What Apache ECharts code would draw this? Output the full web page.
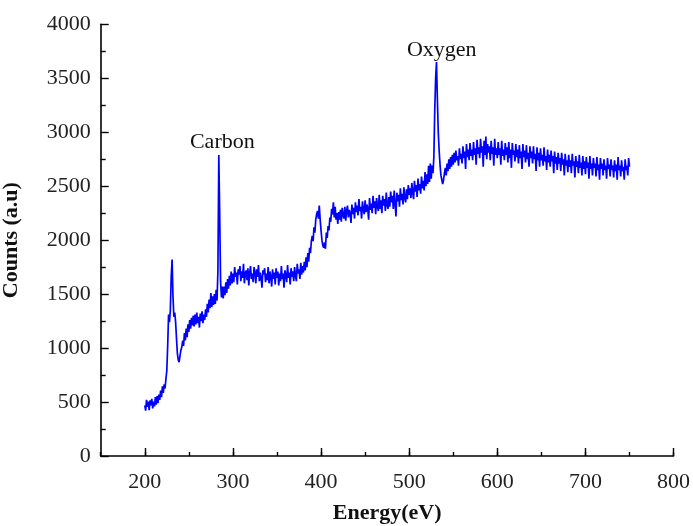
<!DOCTYPE html>
<html>
<head>
<meta charset="utf-8">
<script src="https://cdn.jsdelivr.net/npm/echarts@6/dist/echarts.min.js"></script>
<style>
html,body{margin:0;padding:0;background:#fff;}
#chart{width:693px;height:526px;}
</style>
</head>
<body>
<div id="chart"></div>
<script>
// Energy grid (eV): sampled every 1 eV starting at 200 eV
const energyStart = 200;
const energyStep = 1;
// Counts, one value per eV from 200 to 750
const counts = [
  470, 420, 520, 455, 505, 425, 515, 470, 530, 440,   // 200
  505, 460, 545, 475, 555, 490, 570, 520, 605, 545,   // 210
  645, 585, 665, 625, 715, 790, 1020, 1310, 1240, 1350, // 220
  1660, 1820, 1480, 1290, 1330, 1240, 1090, 950, 890, 870, // 230
  930, 980, 1010, 1070, 1020, 1140, 1070, 1180, 1100, 1220, // 240
  1150, 1260, 1180, 1280, 1210, 1300, 1200, 1310, 1220, 1330, // 250
  1230, 1290, 1190, 1320, 1250, 1340, 1230, 1310, 1260, 1360, // 260
  1290, 1410, 1330, 1450, 1370, 1510, 1380, 1480, 1400, 1500, // 270
  1410, 1540, 1440, 1720, 2790, 2250, 1620, 1470, 1570, 1460, // 280
  1570, 1490, 1610, 1510, 1640, 1550, 1670, 1580, 1710, 1600, // 290
  1690, 1610, 1750, 1660, 1700, 1590, 1730, 1680, 1760, 1620, // 300
  1710, 1650, 1780, 1600, 1690, 1720, 1630, 1740, 1580, 1700, // 310
  1760, 1640, 1690, 1610, 1750, 1700, 1600, 1730, 1660, 1770, // 320
  1620, 1700, 1650, 1560, 1720, 1680, 1740, 1610, 1690, 1630, // 330
  1750, 1600, 1710, 1660, 1570, 1730, 1640, 1700, 1590, 1740, // 340
  1650, 1710, 1580, 1690, 1620, 1760, 1640, 1690, 1560, 1720, // 350
  1680, 1610, 1770, 1650, 1700, 1590, 1740, 1660, 1710, 1620, // 360
  1750, 1670, 1620, 1780, 1690, 1730, 1640, 1790, 1680, 1760, // 370
  1700, 1800, 1720, 1840, 1750, 1880, 1800, 1930, 1880, 1990, // 380
  2040, 1990, 2120, 2070, 2190, 2240, 2270, 2200, 2320, 2190, // 390
  2090, 2000, 1950, 1930, 1980, 1920, 2070, 2020, 2130, 2090, // 400
  2210, 2170, 2290, 2240, 2350, 2210, 2310, 2190, 2250, 2150, // 410
  2260, 2190, 2280, 2170, 2300, 2230, 2200, 2310, 2180, 2270, // 420
  2320, 2210, 2280, 2250, 2160, 2330, 2240, 2300, 2200, 2350, // 430
  2260, 2320, 2230, 2380, 2270, 2310, 2200, 2360, 2280, 2240, // 440
  2370, 2260, 2330, 2290, 2190, 2390, 2280, 2340, 2250, 2410, // 450
  2300, 2360, 2240, 2390, 2310, 2270, 2420, 2290, 2370, 2250, // 460
  2410, 2320, 2380, 2270, 2440, 2330, 2290, 2400, 2310, 2450, // 470
  2350, 2410, 2290, 2460, 2340, 2220, 2440, 2360, 2420, 2310, // 480
  2480, 2370, 2430, 2330, 2490, 2390, 2350, 2470, 2380, 2510, // 490
  2420, 2480, 2390, 2530, 2440, 2380, 2550, 2450, 2510, 2400, // 500
  2570, 2460, 2520, 2430, 2590, 2480, 2550, 2460, 2630, 2500, // 510
  2610, 2520, 2690, 2540, 2710, 2570, 2690, 2620, 2770, 3200, // 520
  3500, 3650, 3300, 3000, 2830, 2700, 2600, 2560, 2520, 2560, // 530
  2620, 2670, 2600, 2710, 2640, 2750, 2660, 2770, 2680, 2790, // 540
  2700, 2810, 2720, 2830, 2740, 2780, 2690, 2850, 2750, 2800, // 550
  2710, 2870, 2760, 2820, 2660, 2890, 2770, 2840, 2740, 2900, // 560
  2780, 2840, 2740, 2910, 2790, 2850, 2700, 2930, 2800, 2860, // 570
  2760, 2940, 2810, 2870, 2680, 2920, 2790, 2960, 2750, 2890, // 580
  2810, 2870, 2740, 2920, 2800, 2860, 2690, 2940, 2790, 2850, // 590
  2760, 2910, 2790, 2850, 2700, 2920, 2780, 2840, 2740, 2900, // 600
  2790, 2860, 2720, 2910, 2760, 2840, 2670, 2900, 2790, 2830, // 610
  2730, 2890, 2770, 2840, 2710, 2880, 2760, 2820, 2660, 2890, // 620
  2770, 2830, 2720, 2880, 2750, 2810, 2680, 2870, 2760, 2820, // 630
  2710, 2870, 2750, 2800, 2640, 2860, 2740, 2810, 2680, 2850, // 640
  2740, 2790, 2690, 2860, 2730, 2780, 2650, 2840, 2720, 2790, // 650
  2680, 2830, 2730, 2780, 2620, 2820, 2710, 2770, 2650, 2810, // 660
  2710, 2760, 2640, 2810, 2700, 2750, 2600, 2800, 2690, 2740, // 670
  2630, 2790, 2680, 2740, 2620, 2800, 2690, 2730, 2580, 2780, // 680
  2680, 2730, 2620, 2790, 2670, 2720, 2600, 2780, 2660, 2730, // 690
  2610, 2770, 2670, 2720, 2570, 2780, 2660, 2710, 2600, 2760, // 700
  2670, 2710, 2590, 2770, 2650, 2700, 2560, 2760, 2660, 2710, // 710
  2600, 2750, 2650, 2690, 2570, 2760, 2660, 2700, 2590, 2750, // 720
  2650, 2690, 2580, 2740, 2640, 2700, 2560, 2770, 2650, 2690, // 730
  2590, 2740, 2640, 2680, 2560, 2750, 2650, 2690, 2600, 2760, // 740
  2680                                                         // 750
];
const xMajorTicks = [200, 300, 400, 500, 600, 700, 800];
const yTicks = [0, 500, 1000, 1500, 2000, 2500, 3000, 3500, 4000];
const annotationNames = ['Carbon', 'Oxygen'];
const annotationX = [288, 537];
const annotationY = [2910, 3760];

const seriesData = counts.map((c, i) => [energyStart + i * energyStep, c]);

const FONT = '"Liberation Serif", "Times New Roman", serif';
const chart = echarts.init(document.getElementById('chart'), null, {renderer: 'canvas'});
chart.setOption({
  animation: false,
  backgroundColor: '#ffffff',
  grid: {left: 100.7, right: 19.4, top: 24.3, bottom: 70, containLabel: false, outerBoundsMode: 'none'},
  xAxis: [{
    type: 'value', min: 150, max: 800, interval: 50,
    name: 'Energy(eV)', nameLocation: 'middle', nameGap: 46,
    nameTextStyle: {fontFamily: FONT, fontSize: 22, fontWeight: 'bold', color: '#111'},
    axisLine: {show: true, onZero: false, lineStyle: {color: '#000', width: 1.6}},
    axisTick: {show: true, inside: true, length: 4, lineStyle: {color: '#000', width: 1.4}},
    axisLabel: {show: true, margin: 15, fontFamily: FONT, fontSize: 22, color: '#222',
      formatter: v => (xMajorTicks.indexOf(v) >= 0 ? String(v) : '')},
    splitLine: {show: false}
  }, {
    type: 'value', min: 150, max: 800, position: 'bottom',
    axisLine: {show: false},
    axisTick: {show: true, inside: true, length: 8, customValues: xMajorTicks, lineStyle: {color: '#000', width: 1.4}},
    axisLabel: {show: false},
    splitLine: {show: false}
  }],
  yAxis: {
    type: 'value', min: 0, max: 4000, interval: 500,
    name: 'Counts (a.u)', nameLocation: 'middle', nameGap: 78,
    nameTextStyle: {fontFamily: FONT, fontSize: 22, fontWeight: 'bold', color: '#111'},
    axisLine: {show: true, onZero: false, lineStyle: {color: '#000', width: 1.6}},
    axisTick: {show: true, inside: true, length: 8, lineStyle: {color: '#000', width: 1.4}},
    minorTick: {show: true, splitNumber: 2, length: 5, lineStyle: {color: '#000', width: 1.4}},
    axisLabel: {show: true, margin: 10, fontFamily: FONT, fontSize: 22, color: '#222',
      formatter: v => (yTicks.indexOf(v) >= 0 ? String(v) : '')},
    splitLine: {show: false},
    minorSplitLine: {show: false}
  },
  series: [{
    type: 'line',
    xAxisIndex: 0,
    data: seriesData,
    showSymbol: false,
    sampling: 'none',
    lineStyle: {color: '#0000ff', width: 1.7},
    itemStyle: {color: '#0000ff'},
    markPoint: {
      symbol: 'rect', symbolSize: 1,
      itemStyle: {color: 'rgba(0,0,0,0)'},
      label: {show: true, position: 'inside', formatter: '{b}', fontFamily: FONT, fontSize: 22, color: '#111'},
      data: annotationNames.map((n, i) => ({name: n, coord: [annotationX[i], annotationY[i]]}))
    }
  }]
});
</script>
</body>
</html>
